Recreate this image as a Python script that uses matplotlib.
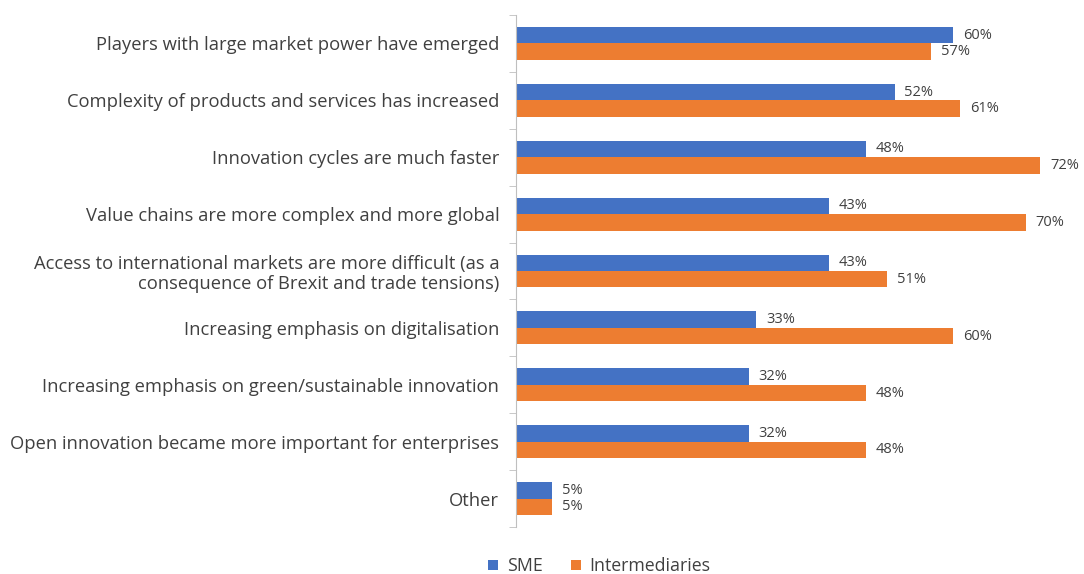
import numpy as np
import matplotlib.pyplot as plt

categories = [
    "Players with large market power have emerged",
    "Complexity of products and services has increased",
    "Innovation cycles are much faster",
    "Value chains are more complex and more global",
    "Access to international markets are more difficult (as a\nconsequence of Brexit and trade tensions)",
    "Increasing emphasis on digitalisation",
    "Increasing emphasis on green/sustainable innovation",
    "Open innovation became more important for enterprises",
    "Other",
]
sme = [60, 52, 48, 43, 43, 33, 32, 32, 5]
intermediaries = [57, 61, 72, 70, 51, 60, 48, 48, 5]

blue = "#4472C4"
orange = "#ED7D31"
text_col = "#404040"

plt.rcParams['font.family'] = ['Open Sans', 'DejaVu Sans']

fig = plt.figure(figsize=(10.84, 5.74), dpi=100)
ax = fig.add_axes([516 / 1084, 47 / 574, 568 / 1084, 512 / 574])

y = np.arange(len(categories))
h = 0.29
b1 = ax.barh(y - h / 2, sme, height=h, color=blue, label="SME")
b2 = ax.barh(y + h / 2, intermediaries, height=h, color=orange, label="Intermediaries")

# value labels just past the end of each bar
for bars, vals in ((b1, sme), (b2, intermediaries)):
    for bar, v in zip(bars, vals):
        ax.annotate(f"{v}%", (bar.get_width(), bar.get_y() + bar.get_height() / 2),
                    xytext=(7, 0), textcoords="offset points", va="center", ha="left",
                    fontsize=10.5, color=text_col)

ax.set_ylim(len(categories) - 0.5, -0.5)
ax.set_xlim(0, 78)
ax.set_yticks(y)
ax.set_yticklabels(categories, fontsize=13.2, color=text_col, linespacing=1.15)
ax.tick_params(axis="y", which="major", length=0, pad=12)
# small tick marks between categories
ax.set_yticks(np.arange(len(categories) + 1) - 0.5, minor=True)
ax.tick_params(axis="y", which="minor", length=5, color="#bfbfbf", direction="out")
ax.set_xticks([])
for s in ("top", "right", "bottom"):
    ax.spines[s].set_visible(False)
ax.spines["left"].set_color("#bfbfbf")

fig.legend(handles=[b1, b2], loc="lower center", bbox_to_anchor=(0.553, -0.03), ncol=2,
           frameon=False, fontsize=12.8, handlelength=0.55, handleheight=0.55,
           columnspacing=1.6, handletextpad=0.5, labelcolor=text_col)

fig.savefig("out.png", dpi=100)
